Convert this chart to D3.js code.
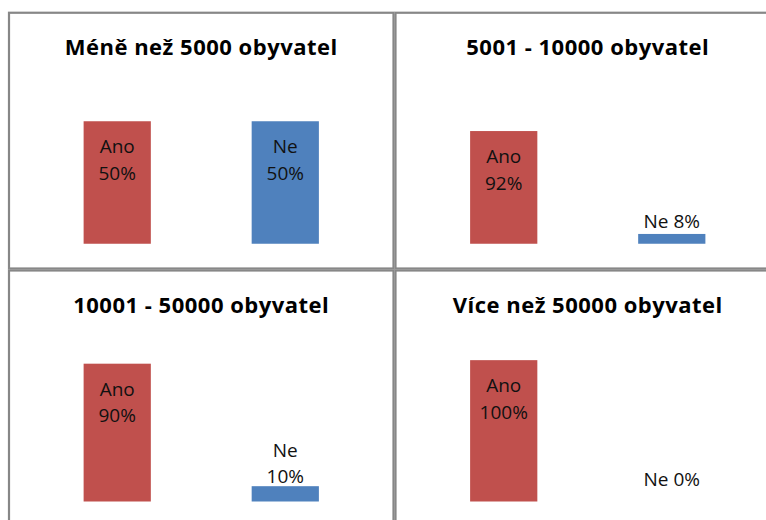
<!DOCTYPE html>
<html>
<head>
<meta charset="utf-8">
<script src="https://cdn.jsdelivr.net/npm/d3@7/dist/d3.min.js"></script>
<style>
  body { margin: 0; background: #fff; }
  #chart { width: 766px; height: 520px; overflow: hidden; }
  .title { font-family: "Open Sans", Lato, sans-serif; font-weight: bold; font-size: 22px; letter-spacing: 0.5px; fill: #000; }
  .label { font-family: "Open Sans", Lato, sans-serif; font-size: 19px; fill: #111; }
</style>
</head>
<body>
<div id="chart"></div>
<script>
// chart data
var titles = ["Méně než 5000 obyvatel", "5001 - 10000 obyvatel", "10001 - 50000 obyvatel", "Více než 50000 obyvatel"];
var categories = ["Ano", "Ne"];
var anoValues = [0.50, 0.92, 0.90, 1.00];
var neValues = [0.50, 0.08, 0.10, 0.00];
// hidden value axis maximum of each small chart
var axisMax = [0.6, 1.2, 0.96, 1.04];
var colors = ["#C0504D", "#4F81BD"];

(function () {
// layout of the 2x2 grid
var width = 766, height = 520;
var left = 9, top = 12.75;
var cellW = 384.5, cellH = 255.75, gap = 2;
var baseline = 231, plotH = 147;
var lineH = 26.5;
var pct = d3.format(".0%");

var svg = d3.select("#chart").append("svg")
    .attr("width", width)
    .attr("height", height);

svg.append("rect")
    .attr("width", width)
    .attr("height", height)
    .attr("fill", "#fff");

titles.forEach(function(t, i) { drawPanel(i); });

function drawPanel(i) {
  var col = i % 2, row = Math.floor(i / 2);
  var g = svg.append("g")
      .attr("transform", "translate(" + (left + col * (cellW + gap)) + "," + (top + row * (cellH + gap)) + ")");

  g.append("rect")
      .attr("width", cellW)
      .attr("height", cellH)
      .attr("fill", "none")
      .attr("stroke", "#878787")
      .attr("stroke-width", 2.2);

  g.append("text")
      .attr("class", "title")
      .attr("x", cellW / 2)
      .attr("y", 42.5)
      .attr("text-anchor", "middle")
      .text(titles[i]);

  var x = d3.scaleBand()
      .domain(categories)
      .range([0, cellW])
      .paddingInner(0.6)
      .paddingOuter(0.444);

  var y = d3.scaleLinear()
      .domain([0, axisMax[i]])
      .range([baseline, baseline - plotH]);

  var data = categories.map(function(c, j) {
    return { cat: c, value: j === 0 ? anoValues[i] : neValues[i], color: colors[j] };
  });

  g.selectAll(".bar")
      .data(data)
      .enter().append("rect")
      .attr("class", "bar")
      .attr("x", function(d) { return x(d.cat); })
      .attr("y", function(d) { return y(d.value); })
      .attr("width", x.bandwidth())
      .attr("height", function(d) { return y(0) - y(d.value); })
      .attr("fill", function(d) { return d.color; });

  data.forEach(function(d) {
    var cx = x(d.cat) + x.bandwidth() / 2;
    var yTop = y(d.value);
    var lbl = g.append("text")
        .attr("class", "label")
        .attr("text-anchor", "middle");

    if (y(0) - yTop > 60) {
      // inside end, two lines
      lbl.append("tspan").attr("x", cx).attr("y", yTop + 32).text(d.cat);
      lbl.append("tspan").attr("x", cx).attr("y", yTop + 32 + lineH).text(pct(d.value));
    } else {
      // outside end, wrap when wider than the bar
      lbl.text(d.cat + " " + pct(d.value)).attr("x", cx);
      var wrap = lbl.node().getComputedTextLength() > x.bandwidth() * 0.9;
      var last = Math.min(yTop - (wrap ? 3 : 6), y(0) - 16);
      if (wrap) {
        lbl.text(null);
        lbl.append("tspan").attr("x", cx).attr("y", last - lineH).text(d.cat);
        lbl.append("tspan").attr("x", cx).attr("y", last).text(pct(d.value));
      } else {
        lbl.attr("y", last);
      }
    }
  });
}
})();
</script>
</body>
</html>
